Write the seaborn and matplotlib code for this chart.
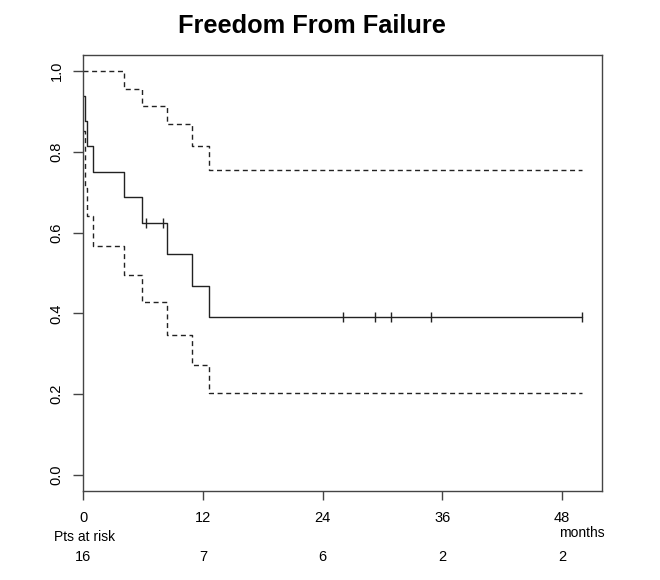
import matplotlib
matplotlib.use("Agg")
import matplotlib.pyplot as plt
import matplotlib.transforms as mtransforms
import seaborn as sns

# Kaplan-Meier curve (months, survival level from that time on)
step_times = [0, 0.18, 0.38, 1.0, 4.1, 5.9, 8.35, 10.85, 12.6, 50.0]
surv = [0.938, 0.876, 0.814, 0.750, 0.689, 0.624, 0.548, 0.469, 0.390, 0.390]
upper = [1.0, 1.0, 1.0, 1.0, 0.956, 0.914, 0.868, 0.814, 0.754, 0.754]
lower = [0.851, 0.71, 0.64, 0.566, 0.496, 0.427, 0.347, 0.271, 0.203, 0.203]

# censored observations
cens_times = [6.3, 8.0, 26.0, 29.3, 30.9, 34.9, 50.0]
cens_surv = [0.624, 0.624, 0.390, 0.390, 0.390, 0.390, 0.390]

# numbers at risk
risk_times = [0, 12, 24, 36, 48]
risk_counts = [16, 7, 6, 2, 2]

xticks = [0, 12, 24, 36, 48]
yticks = [0.0, 0.2, 0.4, 0.6, 0.8, 1.0]

sns.set_style("ticks")
plt.rcParams["font.family"] = ["Liberation Sans", "DejaVu Sans"]
plt.rcParams["text.color"] = "black"
plt.rcParams["xtick.labelcolor"] = "black"
plt.rcParams["ytick.labelcolor"] = "black"

line_col = "#222222"
axis_col = "#444444"

fig = plt.figure(figsize=(6.6, 5.8), dpi=100)
ax = fig.add_axes([0.1265, 0.1534, 0.9117 - 0.1265, 0.9052 - 0.1534])

sns.lineplot(x=step_times, y=surv, ax=ax, estimator=None, drawstyle="steps-post",
             color=line_col, linewidth=1.0)
sns.lineplot(x=step_times, y=upper, ax=ax, estimator=None, drawstyle="steps-post",
             color=line_col, linewidth=1.0, linestyle=(0, (3.6, 2.6)))
sns.lineplot(x=step_times, y=lower, ax=ax, estimator=None, drawstyle="steps-post",
             color=line_col, linewidth=1.0, linestyle=(0, (3.6, 2.6)))
sns.scatterplot(x=cens_times, y=cens_surv, ax=ax, marker="|", s=52,
                color=line_col, linewidth=1.0)

ax.set_xlim(0, 52)
ax.set_ylim(-0.04, 1.04)
ax.set_xticks(xticks)
ax.set_yticks(yticks)
ax.set_xticklabels([str(t) for t in xticks])
ax.set_yticklabels([f"{t:.1f}" for t in yticks], rotation=90, va="center")
ax.tick_params(axis="x", length=6.5, width=1.0, pad=8, labelsize=10.5, color=axis_col)
ax.tick_params(axis="y", length=7.2, width=1.0, pad=7, labelsize=10.5, color=axis_col)
for side in ["left", "right", "top", "bottom"]:
    ax.spines[side].set_visible(True)
    ax.spines[side].set_color(axis_col)
    ax.spines[side].set_linewidth(1.0)
ax.set_xlabel("")
ax.set_ylabel("")

trans = mtransforms.blended_transform_factory(ax.transData, ax.transAxes)
ax.text(-3.0, -0.1055, "Pts at risk", transform=trans, ha="left", va="center",
        fontsize=10, clip_on=False)
ax.text(50.0, -0.0963, "months", transform=trans, ha="center", va="center",
        fontsize=10, clip_on=False)
for t, n in zip(risk_times, risk_counts):
    ax.text(t, -0.151, str(n), transform=trans, ha="center", va="center",
            fontsize=10.5, clip_on=False)

fig.text(0.4727, 1 - 33 / 580, "Freedom From Failure", ha="center", va="baseline",
         fontsize=18.3, fontweight="bold")

fig.savefig("out.png", dpi=100, facecolor="white")
